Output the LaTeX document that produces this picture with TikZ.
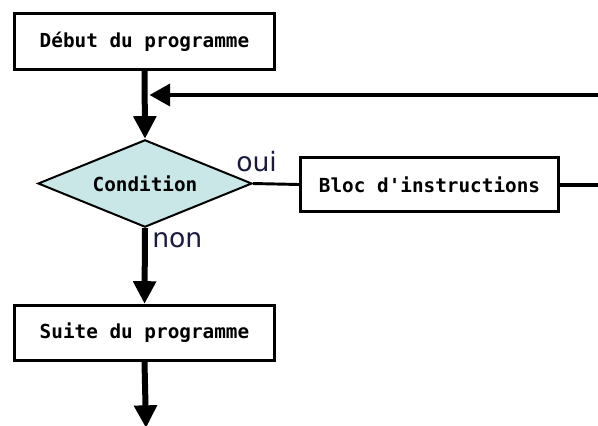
\documentclass[tikz,border=0pt]{standalone}
\usepackage{fontspec}
\setmainfont{DejaVu Sans}
\setmonofont{DejaVu Sans Mono}
\usetikzlibrary{shapes.geometric, arrows.meta, positioning, calc}
\definecolor{condfill}{HTML}{C9E7E7}
\definecolor{lblcol}{HTML}{1A1A40}

\begin{document}
\begin{tikzpicture}[
              x=0.75pt, y=-0.75pt,
              font=\fontsize{14.5}{17}\selectfont\ttfamily\bfseries,
              box/.style={draw, rectangle, line width=2.2pt, align=center, inner sep=0pt, minimum width=195pt, minimum height=41.5pt, fill=white},
              decision/.style={draw, diamond, aspect=2.45, line width=1.5pt, inner sep=0pt, minimum width=160.5pt, minimum height=65.5pt, fill=condfill},
              lbl/.style={font=\fontsize{20}{24}\selectfont\rmfamily, text=lblcol, inner sep=0pt},
              arr/.style={-{Triangle[length=17pt, width=16.5pt]}, line width=4.5pt},
              link/.style={line width=3pt}
            ]
              \useasboundingbox (0,0) rectangle (598,425);
              \node[box] (debut) at (144.5,41.5) {Début du programme};
              \node[decision] (cond) at (145,183.5) {Condition};
              \node[box, minimum width=193.5pt, minimum height=40.5pt] (bloc) at (429.5,184.5) {Bloc d'instructions};
              \node[box] (suite) at (144.5,333) {Suite du programme};
              \node[lbl, anchor=base west] (oui) at (236,171) {oui};
              \node[lbl, anchor=base west] (non) at (152,247) {non};

              \coordinate (retour) at (149.5,95);
              \coordinate (coinhaut) at (600,95);
              \coordinate (coinbas) at (600,184.5);
              \coordinate (fin) at (146,428);

              \draw[arr] (debut.south) -- (cond.north);
              \draw[line width=2.2pt] (cond.east) -- (bloc.west);
              \draw[link] (bloc.east) -- (coinbas) -- (coinhaut);
              \draw[-{Triangle[length=15.5pt, width=16.5pt]}, link] (coinhaut) -- (retour);
              \draw[arr] (cond.south) -- (suite.north);
              \draw[arr] (suite.south) -- (fin);
            \end{tikzpicture}
\end{document}
